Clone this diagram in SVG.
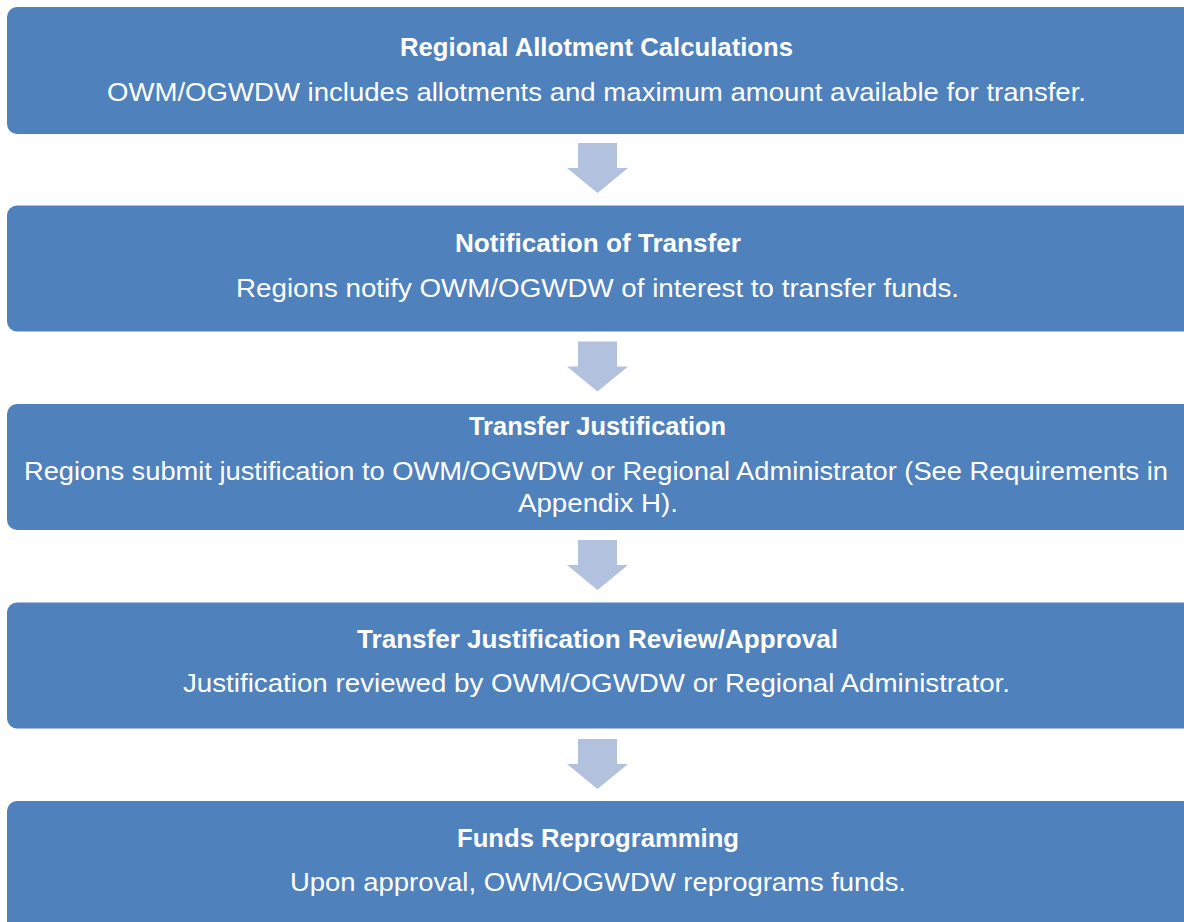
<svg xmlns="http://www.w3.org/2000/svg" width="1184" height="922" viewBox="0 0 1184 922">
<defs>
<style>
.box{fill:#4F81BD;}
.arr{fill:#B2C2DE;}
.t{font-family:"Liberation Sans",Arial,sans-serif;fill:#FFFFFF;text-anchor:middle;font-size:25px;}
.b{font-weight:bold;}
</style>
<path id="arrow" d="M-19.5,0 H19.5 V25 H30.5 L0,50 L-30.5,25 H-19.5 Z"/>
</defs>
<rect width="1184" height="922" fill="#FFFFFF"/>
<g id="connectors">
<use href="#arrow" class="arr" x="597.5" y="143"/>
<use href="#arrow" class="arr" x="597.5" y="341.5"/>
<use href="#arrow" class="arr" x="597.5" y="540"/>
<use href="#arrow" class="arr" x="597.5" y="739"/>
</g>
<g id="node1">
<rect class="box" x="7" y="7" width="1190" height="127" rx="10"/>
<text class="t b" x="596.5" y="56" textLength="393" lengthAdjust="spacingAndGlyphs">Regional Allotment Calculations</text>
<text class="t" x="596.5" y="101" textLength="979" lengthAdjust="spacingAndGlyphs">OWM/OGWDW includes allotments and maximum amount available for transfer.</text>
</g>
<g id="node2">
<rect class="box" x="7" y="205.5" width="1190" height="126" rx="10"/>
<text class="t b" x="598" y="252" textLength="286" lengthAdjust="spacingAndGlyphs">Notification of Transfer</text>
<text class="t" x="597.5" y="297" textLength="723" lengthAdjust="spacingAndGlyphs">Regions notify OWM/OGWDW of interest to transfer funds.</text>
</g>
<g id="node3">
<rect class="box" x="7" y="404" width="1190" height="126" rx="10"/>
<text class="t b" x="597.5" y="435" textLength="257" lengthAdjust="spacingAndGlyphs">Transfer Justification</text>
<text class="t" x="596" y="480" textLength="1144" lengthAdjust="spacingAndGlyphs">Regions submit justification to OWM/OGWDW or Regional Administrator (See Requirements in</text>
<text class="t" x="598" y="512" textLength="160" lengthAdjust="spacingAndGlyphs">Appendix H).</text>
</g>
<g id="node4">
<rect class="box" x="7" y="602.5" width="1190" height="126" rx="10"/>
<text class="t b" x="597.5" y="648" textLength="481" lengthAdjust="spacingAndGlyphs">Transfer Justification Review/Approval</text>
<text class="t" x="596.5" y="692" textLength="827" lengthAdjust="spacingAndGlyphs">Justification reviewed by OWM/OGWDW or Regional Administrator.</text>
</g>
<g id="node5">
<rect class="box" x="7" y="801" width="1190" height="140" rx="10"/>
<text class="t b" x="598" y="847" textLength="282" lengthAdjust="spacingAndGlyphs">Funds Reprogramming</text>
<text class="t" x="598" y="891" textLength="616" lengthAdjust="spacingAndGlyphs">Upon approval, OWM/OGWDW reprograms funds.</text>
</g>
</svg>
